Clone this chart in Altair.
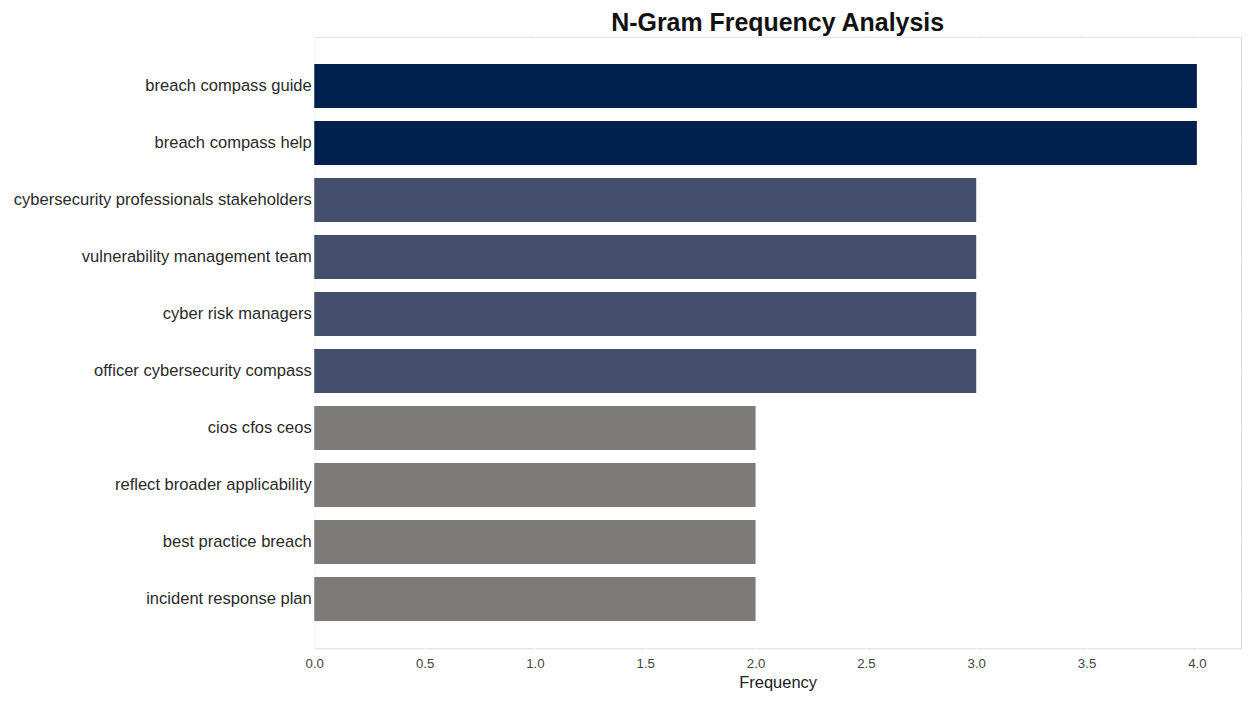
import altair as alt
import pandas as pd

ngrams = [
    "breach compass guide",
    "breach compass help",
    "cybersecurity professionals stakeholders",
    "vulnerability management team",
    "cyber risk managers",
    "officer cybersecurity compass",
    "cios cfos ceos",
    "reflect broader applicability",
    "best practice breach",
    "incident response plan",
]
freqs = [4, 4, 3, 3, 3, 3, 2, 2, 2, 2]
color_levels = [2, 3, 4]
color_values = ["#7c7b77", "#444f6d", "#00214e"]

df = pd.DataFrame({"ngram": ngrams, "freq": freqs})

chart = (
    alt.Chart(df)
    .mark_bar()
    .encode(
        x=alt.X(
            "freq:Q",
            title="Frequency",
            scale=alt.Scale(domain=[0, 4.2], nice=False, zero=True),
            axis=alt.Axis(
                values=[0, 0.5, 1, 1.5, 2, 2.5, 3, 3.5, 4],
                format=".1f",
                tickSize=0,
                labelPadding=8,
                labelFlush=False,
                labelFontSize=13.3,
                labelColor="#444444",
                titleFontSize=16.5,
                titleFontWeight="normal",
                titleColor="#222222",
                titlePadding=5,
                domain=False,
                grid=True,
                gridColor="#ffffff",
                gridWidth=1.2,
            ),
        ),
        y=alt.Y(
            "ngram:N",
            sort=ngrams,
            title=None,
            scale=alt.Scale(paddingInner=0.23, paddingOuter=0.48),
            axis=alt.Axis(
                tickSize=0,
                labelPadding=3,
                labelFontSize=16.6,
                labelColor="#2a2a2a",
                labelLimit=400,
                domain=False,
                grid=True,
                gridColor="#ffffff",
                gridWidth=1.2,
                bandPosition=0.5,
            ),
        ),
        color=alt.Color(
            "freq:O",
            scale=alt.Scale(domain=color_levels, range=color_values),
            legend=None,
        ),
    )
    .properties(
        width=929,
        height=613,
        padding={"left": 5, "top": 2, "right": 5, "bottom": 5},
        title=alt.TitleParams(
            "N-Gram Frequency Analysis",
            fontSize=25,
            fontWeight="bold",
            color="#111111",
            anchor="middle",
            offset=1,
        ),
    )
    .configure_view(fill="#f6f6f6", strokeWidth=0, stroke="transparent")
    .configure(font="Liberation Sans")
)

chart.save("out.html", embed_options={"renderer": "svg", "actions": False})
